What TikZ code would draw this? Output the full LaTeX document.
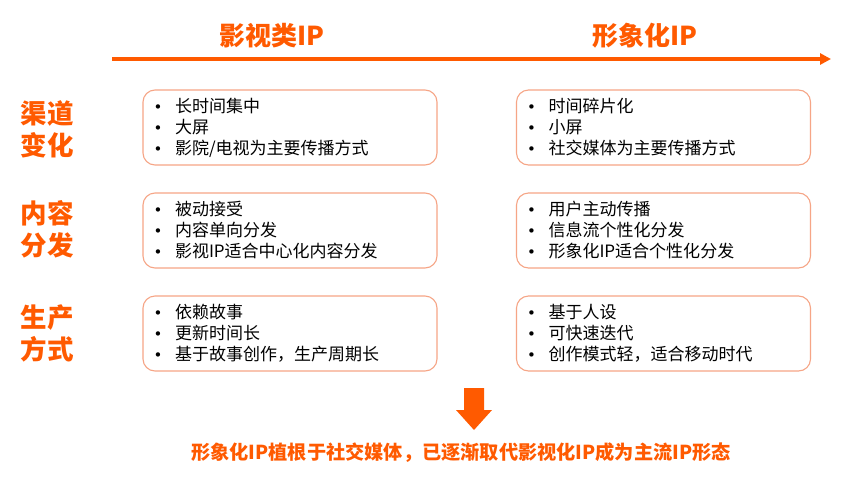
\documentclass[tikz,border=0pt]{standalone}
\usepackage{fontspec}
\setmainfont{Noto Sans CJK SC}
\newfontfamily\bulfont{DejaVu Sans}
\usetikzlibrary{arrows.meta}
\definecolor{ora}{HTML}{FF5A00}
\definecolor{boxline}{HTML}{F6A586}
\tikzset{
  hdr/.style={text=ora,font=\fontsize{26}{28}\selectfont\bfseries,inner sep=0pt},
  lbl/.style={text=ora,font=\fontsize{26.5}{32}\selectfont\bfseries,align=center,inner sep=0pt},
  itembox/.style={draw=boxline,line width=1.1pt,rounded corners=12pt,minimum width=294pt,minimum height=75pt,
    text width=270pt,align=left,inner xsep=12pt,font=\fontsize{17}{21}\selectfont,anchor=center},
  bigarrow/.style={fill=ora,draw=none},
}
\newcommand{\bul}[1]{\makebox[20pt][l]{\hspace{-1.5pt}\raisebox{0pt}{\bulfont\fontsize{15}{15}\selectfont •}}#1}
\begin{document}
\begin{tikzpicture}[x=1pt,y=-1pt]
\useasboundingbox (0,0) rectangle (864,490);
\fill[white] (0,0) rectangle (864,490);
% header
\coordinate (axs) at (112,59);
\coordinate (axe) at (831,59);
\draw[ora,line width=4pt,-{Triangle[length=11pt,width=11pt]}] (axs) -- (axe);
\node[hdr] (h1) at (272,36) {影视类IP};
\node[hdr] (h2) at (645,36) {形象化IP};
% row labels
\node[lbl] (l1) at (47,129) {渠道\\变化};
\node[lbl] (l2) at (47,229) {内容\\分发};
\node[lbl] (l3) at (47,333) {生产\\方式};
% boxes
\node[itembox] (a1) at (290,127.5) {\bul{长时间集中}\\\bul{大屏}\\\bul{影院/电视为主要传播方式}};
\node[itembox] (b1) at (663.5,127.5) {\bul{时间碎片化}\\\bul{小屏}\\\bul{社交媒体为主要传播方式}};
\node[itembox] (a2) at (290,230.5) {\bul{被动接受}\\\bul{内容单向分发}\\\bul{影视IP适合中心化内容分发}};
\node[itembox] (b2) at (663.5,230.5) {\bul{用户主动传播}\\\bul{信息流个性化分发}\\\bul{形象化IP适合个性化分发}};
\node[itembox] (a3) at (290,333.5) {\bul{依赖故事}\\\bul{更新时间长}\\\bul{基于故事创作，生产周期长}};
\node[itembox] (b3) at (663.5,333.5) {\bul{基于人设}\\\bul{可快速迭代}\\\bul{创作模式轻，适合移动时代}};
% down arrow
\fill[bigarrow] (464,388) -- (484,388) -- (484,410) -- (492,410) -- (474,430) -- (456,410) -- (464,410) -- cycle;
% conclusion
\node[text=ora,font=\fontsize{19.2}{22}\selectfont\bfseries,inner sep=0pt] (c) at (461,453) {形象化IP植根于社交媒体，已逐渐取代影视化IP成为主流IP形态};
\end{tikzpicture}
\end{document}
